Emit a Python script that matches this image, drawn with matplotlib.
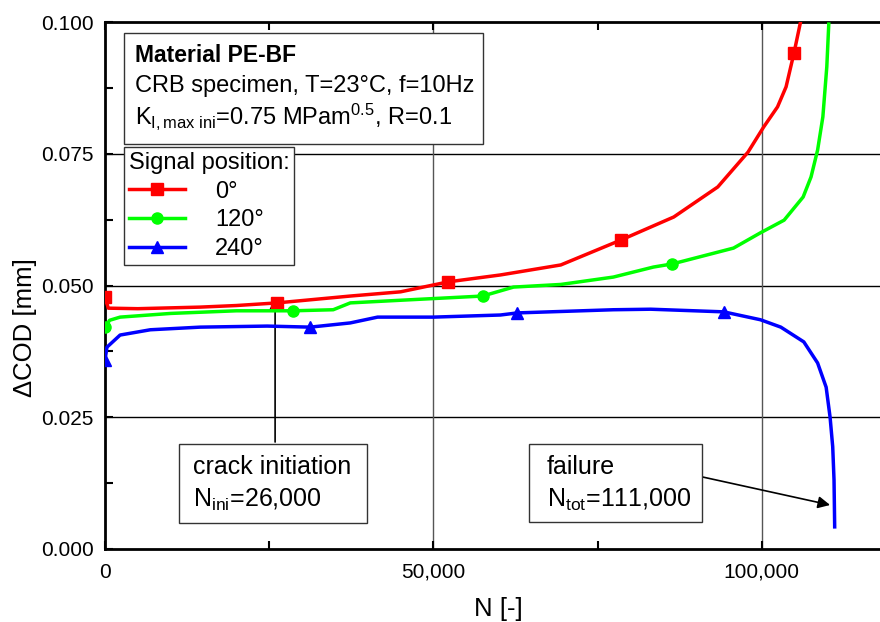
import numpy as np
import matplotlib
matplotlib.use('Agg')
import matplotlib.pyplot as plt
from matplotlib.ticker import FixedLocator, FuncFormatter

plt.rcParams['font.family'] = ['Liberation Sans', 'DejaVu Sans']
plt.rcParams['mathtext.fontset'] = 'custom'
plt.rcParams['mathtext.rm'] = 'Liberation Sans'
plt.rcParams['mathtext.it'] = 'Liberation Sans'

# signal position 0 deg
n_0 = [0, 500, 5000, 14500, 20000, 26220, 37350, 45000, 52300, 60200, 69400,
       78500, 86600, 93300, 97900, 100300, 102400, 103700, 104900, 105900]
cod_0 = [0.0478, 0.0457, 0.0456, 0.0459, 0.0462, 0.0467, 0.0480, 0.0488, 0.0507, 0.0520, 0.0539,
         0.0586, 0.0630, 0.0687, 0.0753, 0.0801, 0.0839, 0.0877, 0.0941, 0.1000]
mark_0 = [0, 5, 8, 11, 18]

# signal position 120 deg
n_120 = [0, 700, 2300, 10000, 20000, 28650, 34750, 37350, 45000, 57500, 62200, 69400,
         77400, 83500, 86400, 95700, 99800, 103400, 106300, 107500, 108500, 109300, 109900, 110200]
cod_120 = [0.0421, 0.0434, 0.0440, 0.0447, 0.0452, 0.0452, 0.0454, 0.0467, 0.0472, 0.0480, 0.0497, 0.0502,
           0.0516, 0.0535, 0.0541, 0.0571, 0.0600, 0.0624, 0.0668, 0.0706, 0.0757, 0.0820, 0.0915, 0.0996]
mark_120 = [0, 5, 9, 14]

# signal position 240 deg
n_240 = [0, 300, 2300, 6900, 14500, 24700, 31250, 37350, 41500, 50000, 60200, 62800,
         77400, 83100, 94200, 99800, 102900, 106400, 108500, 109800, 110400, 110800, 111000, 111100]
cod_240 = [0.0359, 0.0383, 0.0406, 0.0416, 0.0421, 0.0423, 0.0421, 0.0429, 0.0440, 0.0440, 0.0444, 0.0448,
           0.0454, 0.0455, 0.0450, 0.0435, 0.0421, 0.0393, 0.0353, 0.0307, 0.0250, 0.0194, 0.0131, 0.0042]
mark_240 = [0, 6, 11, 14]

fig = plt.figure(figsize=(8.8, 6.22), dpi=100)
ax = fig.add_axes([105/880, 73/622, 1 - 105/880, 527/622])

ax.plot(n_0, cod_0, color='#ff0000', lw=2.5, marker='s', ms=8, markevery=mark_0, label='0°', zorder=5)
ax.plot(n_120, cod_120, color='#00ff00', lw=2.5, marker='o', ms=8, markevery=mark_120, label='120°', zorder=5)
ax.plot(n_240, cod_240, color='#0000ff', lw=2.5, marker='^', ms=8, markevery=mark_240, label='240°', zorder=5)

ax.set_xlim(0, 118000)
ax.set_ylim(0, 0.1)

ax.xaxis.set_major_locator(FixedLocator([0, 50000, 100000]))
ax.xaxis.set_minor_locator(FixedLocator([25000, 75000]))
ax.yaxis.set_major_locator(FixedLocator([0, 0.025, 0.05, 0.075, 0.1]))
ax.yaxis.set_minor_locator(FixedLocator([0.0125, 0.0375, 0.0625, 0.0875]))
ax.xaxis.set_major_formatter(FuncFormatter(lambda v, p: f'{int(v):,}'))
ax.yaxis.set_major_formatter(FuncFormatter(lambda v, p: f'{v:.3f}'))
ax.tick_params(which='both', direction='in', length=6, width=1.5, labelsize=15, pad=8, top=True)
ax.tick_params(axis='x', which='major', pad=10)

for y in [0.025, 0.05, 0.075]:
    ax.axhline(y, color='black', lw=1, zorder=1)
for x in [50000, 100000]:
    ax.axvline(x, color='#555555', lw=1, zorder=1)

for s in ['left', 'bottom', 'top']:
    ax.spines[s].set_linewidth(2)
ax.spines['right'].set_visible(False)

ax.set_xlabel('N [-]', fontsize=18.5)
ax.xaxis.set_label_coords(0.507, -0.092)
ax.set_ylabel('ΔCOD [mm]', fontsize=18.5)
ax.yaxis.set_label_coords(-0.088, 0.421)

# header box
ax.add_patch(plt.Rectangle((0.0245, 0.7685), 0.463, 0.2106, transform=ax.transAxes,
                           facecolor='white', edgecolor='#333333', lw=1, zorder=6))
ax.text(0.0387, 0.924, 'Material PE-BF', transform=ax.transAxes, fontsize=16.5,
        fontweight='bold', va='baseline', ha='left', zorder=7)
ax.text(0.0387, 0.867, 'CRB specimen, T=23°C, f=10Hz', transform=ax.transAxes, fontsize=17,
        va='baseline', ha='left', zorder=7)
ax.text(0.0387, 0.8065, r'K$_{\mathrm{I,max\ ini}}$=0.75 MPam$^{0.5}$, R=0.1', transform=ax.transAxes,
        fontsize=17, va='baseline', ha='left', zorder=7)

leg = ax.legend(title='Signal position:', loc='upper left', bbox_to_anchor=(0.0245, 0.7628),
                fontsize=17, title_fontsize=17, frameon=True, fancybox=False, borderaxespad=0,
                handlelength=2.37, handletextpad=1.3, borderpad=0.2, labelspacing=0.29,
                alignment='left', framealpha=1)
leg.get_frame().set_edgecolor('#333333')
leg.get_frame().set_linewidth(1)
leg.set_zorder(8)

# crack initiation
ax.add_patch(plt.Rectangle((0.0955, 0.0493), 0.2425, 0.1499, transform=ax.transAxes,
                           facecolor='white', edgecolor='#333333', lw=1, zorder=6))
ax.text(0.1135, 0.1423, 'crack initiation', transform=ax.transAxes, fontsize=18,
        va='baseline', ha='left', zorder=7)
ax.text(0.1135, 0.0797, r'N$_{\mathrm{ini}}$=26,000', transform=ax.transAxes, fontsize=18,
        va='baseline', ha='left', zorder=7)
ax.annotate('', xy=(25900, 0.0476), xytext=(25900, 0.0203),
            arrowprops=dict(arrowstyle='-|>', color='black', lw=1.2, mutation_scale=18,
                            shrinkA=0, shrinkB=0))

# failure
ax.add_patch(plt.Rectangle((0.547, 0.0512), 0.223, 0.148, transform=ax.transAxes,
                           facecolor='white', edgecolor='#333333', lw=1, zorder=6))
ax.text(0.570, 0.1423, 'failure', transform=ax.transAxes, fontsize=18,
        va='baseline', ha='left', zorder=7)
ax.text(0.570, 0.0797, r'N$_{\mathrm{tot}}$=111,000', transform=ax.transAxes, fontsize=18,
        va='baseline', ha='left', zorder=7)
ax.annotate('', xy=(110400, 0.00835), xytext=(91000, 0.01366),
            arrowprops=dict(arrowstyle='-|>', color='black', lw=1.2, mutation_scale=18,
                            shrinkA=0, shrinkB=0))

plt.savefig('out.png', dpi=100)
